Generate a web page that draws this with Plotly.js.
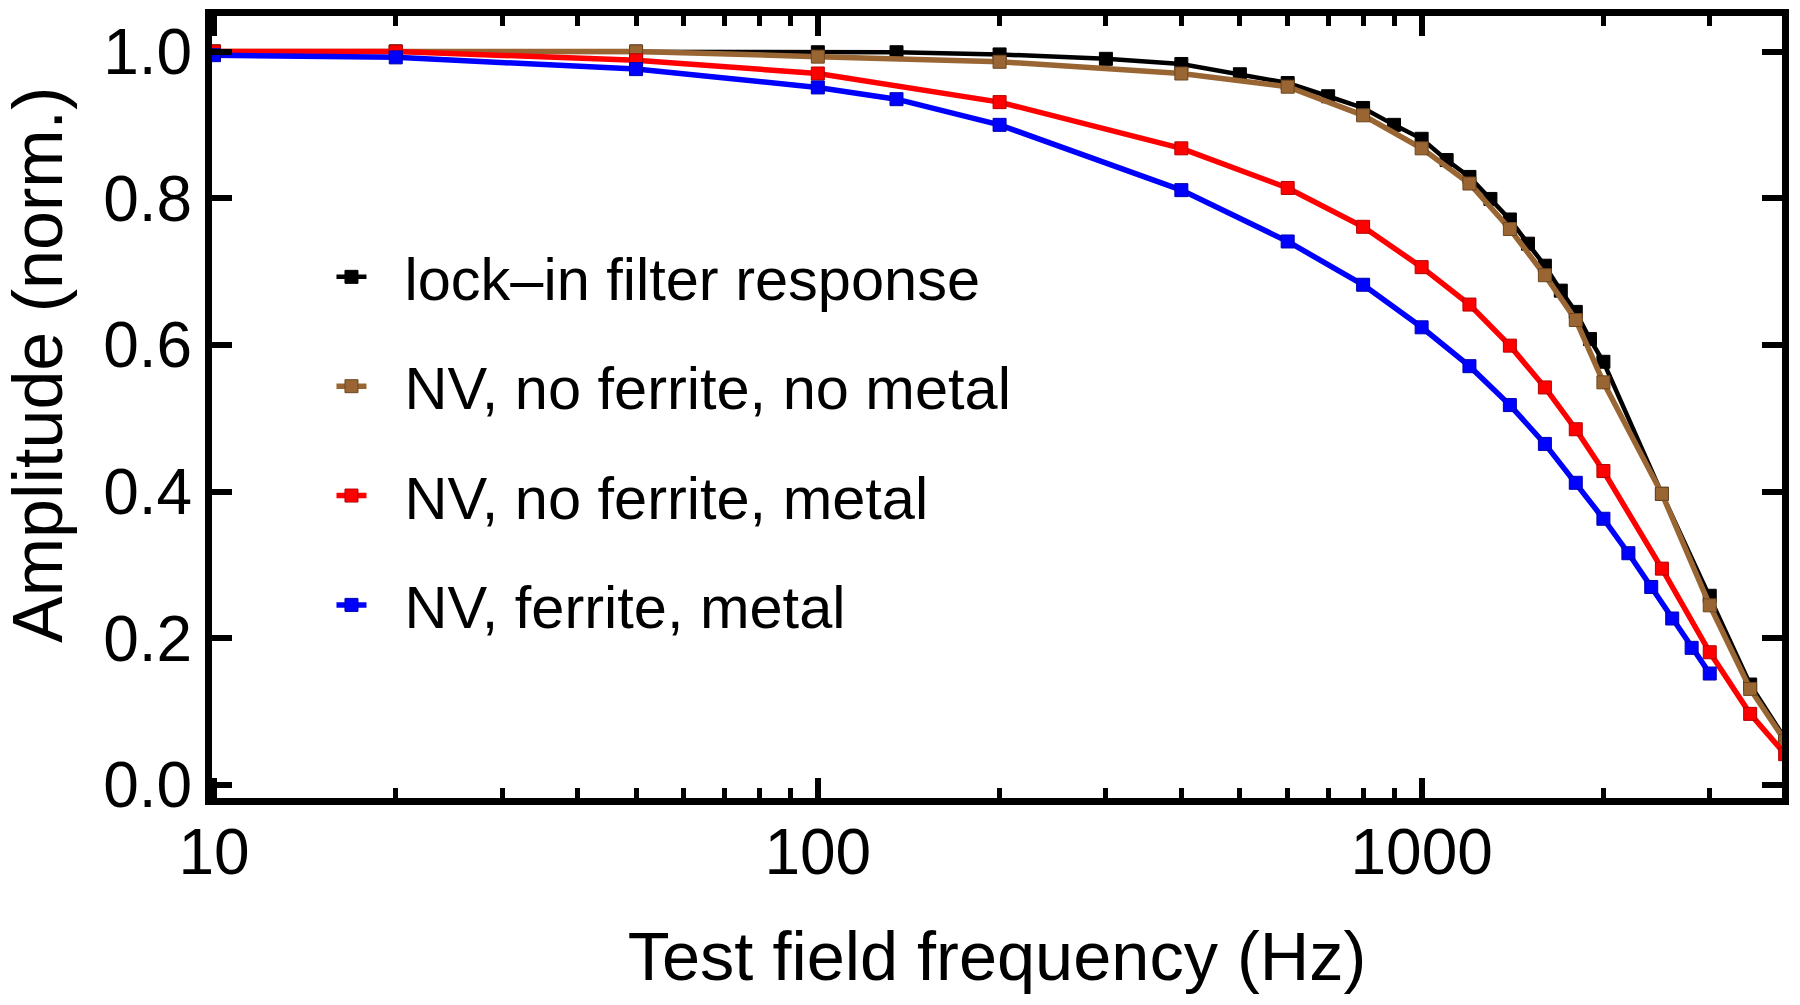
<!DOCTYPE html>
<html>
<head>
<meta charset="utf-8">
<script src="https://cdn.plot.ly/plotly-3.0.1.min.js"></script>
<style>
  html, body { margin: 0; padding: 0; background: #ffffff; }
  #chart { width: 1800px; height: 1005px; }
</style>
</head>
<body>
<div id="chart"></div>
<script>
// ---- data ----
var seriesNames = [
  "lock\u2013in filter response",
  "NV, no ferrite, no metal",
  "NV, no ferrite, metal",
  "NV, ferrite, metal"
];
var seriesColors = ["#000000", "#996633", "#ff0000", "#0000ff"];

var lockinFreq = [10, 20, 50, 100, 135, 200, 300, 400, 500, 600, 700, 800, 900, 1000,
                  1100, 1200, 1300, 1400, 1500, 1600, 1700, 1800, 1900, 2000, 2500, 3000, 3500, 4000];
var lockinAmp  = [1.0, 1.0, 1.0, 0.999, 0.999, 0.996, 0.990, 0.983, 0.969, 0.957, 0.939, 0.923, 0.900, 0.881,
                  0.852, 0.829, 0.799, 0.771, 0.738, 0.708, 0.674, 0.645, 0.608, 0.577, 0.397, 0.258, 0.137, 0.063];

var noFerNoMetFreq = [10, 20, 50, 100, 200, 400, 600, 800, 1000, 1200, 1400, 1600, 1800, 2000, 2500, 3000, 3500, 4000];
var noFerNoMetAmp  = [1.0, 1.0, 1.0, 0.993, 0.986, 0.970, 0.952, 0.913, 0.868, 0.820, 0.758, 0.695, 0.634, 0.549, 0.397, 0.245, 0.131, 0.060];

var noFerMetFreq = [10, 20, 50, 100, 200, 400, 600, 800, 1000, 1200, 1400, 1600, 1800, 2000, 2500, 3000, 3500, 4000];
var noFerMetAmp  = [1.0, 1.0, 0.988, 0.970, 0.931, 0.868, 0.814, 0.761, 0.706, 0.655, 0.599, 0.542, 0.485, 0.428, 0.295, 0.181, 0.097, 0.042];

var ferMetFreq = [10, 20, 50, 100, 135, 200, 400, 600, 800, 1000, 1200, 1400, 1600, 1800, 2000, 2200, 2400, 2600, 2800, 3000];
var ferMetAmp  = [0.995, 0.992, 0.976, 0.951, 0.935, 0.900, 0.811, 0.741, 0.682, 0.624, 0.571, 0.518, 0.465, 0.412, 0.363, 0.316, 0.270, 0.227, 0.187, 0.152];

var xMajorTicks = [10, 100, 1000];
var xMajorText  = ["10", "100", "1000"];
var xMinorTicks = [20, 30, 40, 50, 60, 70, 80, 90, 200, 300, 400, 500, 600, 700, 800, 900, 2000, 3000];
var yTicks = [0.0, 0.2, 0.4, 0.6, 0.8, 1.0];
var yTickText = ["0.0", "0.2", "0.4", "0.6", "0.8", "1.0"];

var xTitle = "Test field frequency (Hz)";
var yTitle = "Amplitude (norm.)";

// ---- traces ----
var xs = [lockinFreq, noFerNoMetFreq, noFerMetFreq, ferMetFreq];
var ys = [lockinAmp, noFerNoMetAmp, noFerMetAmp, ferMetAmp];
var lineWidths = [4.5, 5.5, 5.5, 5.5];
var edgeColors = ["#000000", "#6e4620", "#b30000", "#0000b0"];
var legendPad = "\u00a0\u00a0"; // gap between legend symbol and label

var traces = xs.map(function (x, i) {
  return {
    type: "scatter",
    mode: "lines+markers",
    x: x,
    y: ys[i],
    name: legendPad + seriesNames[i],
    legendgroup: "g" + i,
    line: { color: seriesColors[i], width: lineWidths[i] },
    marker: { symbol: "square", size: 13, color: seriesColors[i],
              line: { color: edgeColors[i], width: 1 } },
    cliponaxis: true,
    hoverinfo: "x+y"
  };
});

var fontFam = "Liberation Sans, Arial, Helvetica, sans-serif";

var layout = {
  width: 1800,
  height: 1005,
  paper_bgcolor: "#ffffff",
  plot_bgcolor: "#ffffff",
  margin: { l: 212, r: 18, t: 16, b: 207, pad: 0 },
  font: { family: fontFam, color: "#000000" },
  showlegend: true,
  legend: {
    x: 0.0761, y: 0.7242, xanchor: "left", yanchor: "top",
    bgcolor: "rgba(0,0,0,0)",
    font: { family: fontFam, size: 59.5, color: "#000000" },
    traceorder: "grouped",
    tracegroupgap: 29,
    itemwidth: 30
  },
  xaxis: {
    type: "log",
    range: [0.9967, 3.5968],
    showgrid: false,
    zeroline: false,
    showline: true,
    linecolor: "#000000",
    linewidth: 7,
    mirror: "ticks",
    ticks: "inside",
    ticklen: 20,
    tickwidth: 6,
    tickcolor: "#000000",
    tickmode: "array",
    tickvals: xMajorTicks,
    ticktext: xMajorText,
    ticklabelstandoff: -8,
    tickfont: { family: fontFam, size: 64, color: "#000000" },
    minor: {
      tickmode: "array",
      tickvals: xMinorTicks,
      ticks: "inside",
      ticklen: 10,
      tickwidth: 5,
      tickcolor: "#000000",
      showgrid: false
    },
    title: { text: xTitle, font: { family: fontFam, size: 68.5, color: "#000000" }, standoff: 48 }
  },
  yaxis: {
    range: [-0.0177, 1.0484],
    showgrid: false,
    zeroline: false,
    showline: true,
    linecolor: "#000000",
    linewidth: 7,
    mirror: "ticks",
    ticks: "inside",
    ticklen: 20,
    tickwidth: 6,
    tickcolor: "#000000",
    tickmode: "array",
    tickvals: yTicks,
    ticktext: yTickText,
    tickfont: { family: fontFam, size: 64, color: "#000000" }
  },
  annotations: [{
    text: yTitle,
    xref: "paper", yref: "paper",
    x: (38 - 212) / 1570, y: (798 - 365) / 782,
    xanchor: "center", yanchor: "middle",
    textangle: -90,
    showarrow: false,
    font: { family: fontFam, size: 70, color: "#000000" }
  }]
};

Plotly.newPlot("chart", traces, layout, { displayModeBar: false, staticPlot: true });
</script>
</body>
</html>
